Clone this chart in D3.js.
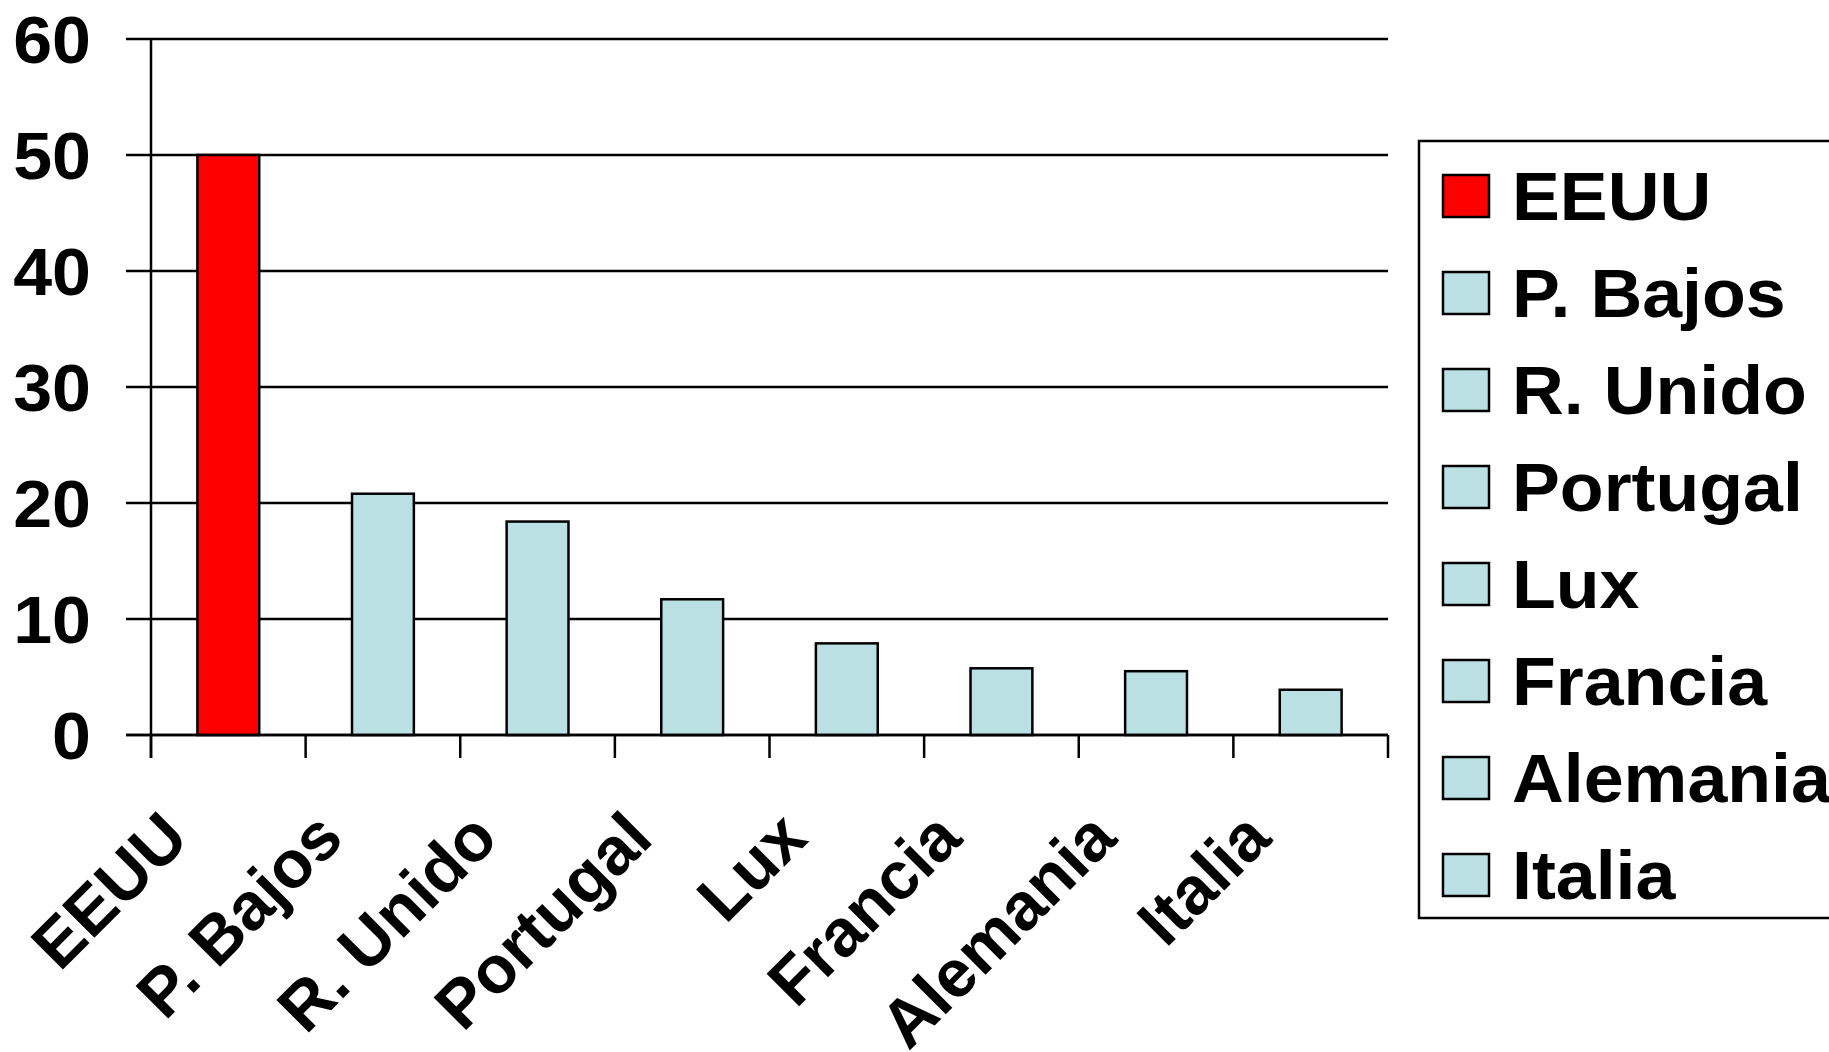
<!DOCTYPE html>
<html><head><meta charset="utf-8">
<script src="https://cdn.jsdelivr.net/npm/d3@7"></script>
<style>body{margin:0;background:#fff}svg{display:block}text{font-family:"Liberation Sans",Arial,sans-serif;font-weight:bold;fill:#000}</style>
</head><body>
<svg id="c" width="1829" height="1052"></svg>
<script>
const categories = ["EEUU","P. Bajos","R. Unido","Portugal","Lux","Francia","Alemania","Italia"];
const values = [50, 20.8, 18.4, 11.7, 7.9, 5.75, 5.5, 3.9];
const colors = ["#FF0000","#BBE0E3","#BBE0E3","#BBE0E3","#BBE0E3","#BBE0E3","#BBE0E3","#BBE0E3"];
const yTicks = [0,10,20,30,40,50,60];

const svg = d3.select("#c");
const x0 = 151, x1 = 1388, yTop = 39, yBot = 735;
const x = d3.scaleBand().domain(categories).range([x0, x1]).paddingInner(0.6).paddingOuter(0.3);
const y = d3.scaleLinear().domain([0, 60]).range([yBot, yTop]);

// gridlines
svg.append("g").selectAll("line").data(yTicks).join("line")
  .attr("x1", 126).attr("x2", x1).attr("y1", d => y(d)).attr("y2", d => y(d))
  .attr("stroke", "#000").attr("stroke-width", 2.5);

// y labels
svg.append("g").selectAll("text").data(yTicks).join("text")
  .attr("transform", d => `translate(91,${y(d)}) scale(1.06,1)`)
  .attr("dy", "0.36em")
  .attr("text-anchor", "end").attr("font-size", 66).text(d => d);

// bars
svg.append("g").selectAll("rect").data(categories).join("rect")
  .attr("x", d => x(d)).attr("width", x.bandwidth())
  .attr("y", (d, i) => y(values[i])).attr("height", (d, i) => yBot - y(values[i]))
  .attr("fill", (d, i) => colors[i]).attr("stroke", "#000").attr("stroke-width", 2.5);

// axes lines
svg.append("line").attr("x1", x0).attr("x2", x0).attr("y1", yTop).attr("y2", 758)
  .attr("stroke", "#000").attr("stroke-width", 2.5);
svg.append("line").attr("x1", 126).attr("x2", x1).attr("y1", yBot).attr("y2", yBot)
  .attr("stroke", "#000").attr("stroke-width", 2.5);
const step = x.step();
const tickXs = d3.range(categories.length + 1).map(i => x0 + i * step);
svg.append("g").selectAll("line").data(tickXs).join("line")
  .attr("x1", d => d).attr("x2", d => d).attr("y1", yBot).attr("y2", 758)
  .attr("stroke", "#000").attr("stroke-width", 2.5);

// x labels
svg.append("g").selectAll("text").data(categories).join("text")
  .attr("transform", d => `translate(${x(d) + x.bandwidth()/2 - 37},841) rotate(-45)`)
  .attr("text-anchor", "end").attr("font-size", 67).text(d => d);

// legend
const lg = svg.append("g");
lg.append("rect").attr("x", 1419).attr("y", 141).attr("width", 500).attr("height", 777)
  .attr("fill", "#fff").attr("stroke", "#000").attr("stroke-width", 2.5);
const rowY = i => 196 + i * 97;
lg.selectAll("rect.sw").data(categories).join("rect").attr("class", "sw")
  .attr("x", 1443).attr("y", (d, i) => rowY(i) - 21).attr("width", 46).attr("height", 42)
  .attr("fill", (d, i) => colors[i]).attr("stroke", "#000").attr("stroke-width", 2.5);
lg.selectAll("text").data(categories).join("text")
  .attr("transform", (d, i) => `translate(1512,${rowY(i) + 24}) scale(1.055,1)`)
  .attr("font-size", 68).text(d => d);
</script>
</body></html>
